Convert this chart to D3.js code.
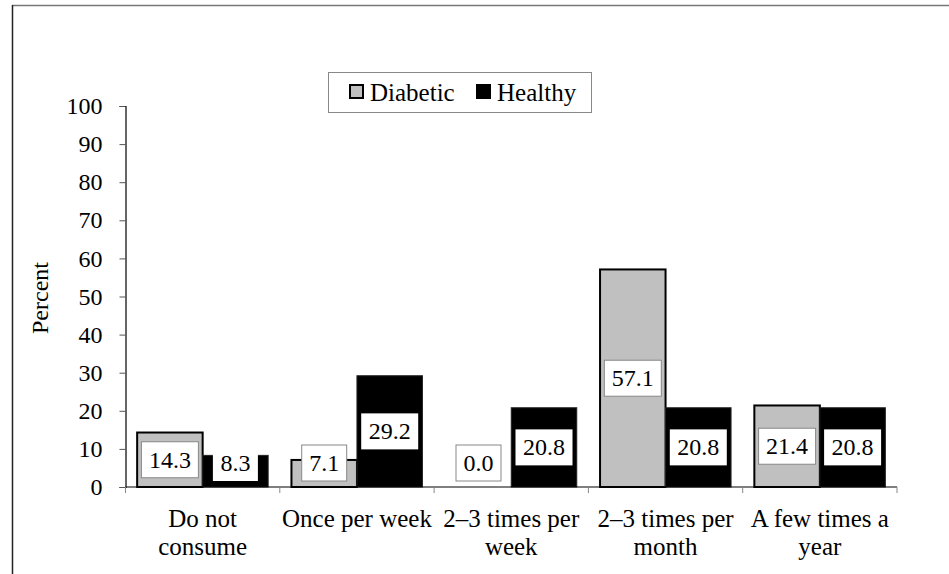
<!DOCTYPE html>
<html>
<head>
<meta charset="utf-8">
<script src="https://cdn.jsdelivr.net/npm/d3@7"></script>
<style>
  html, body { margin: 0; padding: 0; background: #fff; }
  svg { display: block; }
</style>
</head>
<body>
<svg id="chart" width="949" height="574"></svg>
<script>
const categories = ["Do not consume", "Once per week", "2\u20133 times per week", "2\u20133 times per month", "A few times a year"];
const seriesNames = ["Diabetic", "Healthy"];
const diabetic = [14.3, 7.1, 0.0, 57.1, 21.4];
const healthy = [8.3, 29.2, 20.8, 20.8, 20.8];
const yTicks = [0, 10, 20, 30, 40, 50, 60, 70, 80, 90, 100];
const yLabel = "Percent";

const seriesValues = [diabetic, healthy];
const fills = ["#c0c0c0", "#000000"];
const strokes = ["#000000", "#222222"];

const FONT = "'Liberation Serif', 'Times New Roman', Tinos, 'DejaVu Serif', serif";
const FS = 24;
const FS_TXT = 25;

const svg = d3.select("#chart")
  .style("font-family", FONT);

// frame lines
svg.append("line").attr("x1", 12).attr("x2", 949).attr("y1", 5.5).attr("y2", 5.5)
  .attr("stroke", "#777").attr("stroke-width", 1.5);
svg.append("line").attr("x1", 12.5).attr("x2", 12.5).attr("y1", 5).attr("y2", 574)
  .attr("stroke", "#222").attr("stroke-width", 1.5);

const plotLeft = 125.5, plotRight = 897, plotTop = 106, plotBottom = 487;

const p = 0.151;
const x0 = d3.scaleBand().domain(categories).range([plotLeft, plotRight])
  .paddingInner(p).paddingOuter(p / 2);
const x1 = d3.scaleBand().domain(seriesNames).range([0, x0.bandwidth()]).padding(0);
const y = d3.scaleLinear().domain([0, 100]).range([plotBottom, plotTop]);

function styleText(sel, fs) {
  return sel.style("font-family", FONT).style("font-size", (fs || FS) + "px").attr("fill", "#000");
}

// bars
const groups = svg.append("g").selectAll("g").data(categories).join("g")
  .attr("transform", d => `translate(${x0(d)},0)`);

const barData = (c, i) => seriesNames.map((s, k) => ({ s, k, v: seriesValues[k][i], c }));

groups.selectAll("rect").data((c, i) => barData(c, i)).join("rect")
  .attr("x", d => x1(d.s))
  .attr("width", x1.bandwidth())
  .attr("y", d => y(d.v))
  .attr("height", d => y(0) - y(d.v))
  .attr("fill", d => fills[d.k])
  .attr("stroke", d => d.v > 0 ? strokes[d.k] : "none")
  .attr("stroke-width", d => d.k === 0 ? 2 : 1);

// axes
const yAxis = d3.axisLeft(y).tickValues(yTicks).tickSize(6).tickPadding(17).tickFormat(d3.format("d"));
const gy = svg.append("g").attr("transform", `translate(${plotLeft},0)`).call(yAxis);
gy.attr("font-family", null).attr("font-size", null);
gy.select(".domain").attr("stroke", "#000").attr("stroke-width", 1.2);
gy.selectAll(".tick line").attr("stroke", "#555");
styleText(gy.selectAll(".tick text"));

// x axis line
svg.append("line").attr("x1", plotLeft).attr("x2", plotRight).attr("y1", y(0)).attr("y2", y(0))
  .attr("stroke", "#000").attr("stroke-width", 1.2);
// x boundary ticks
const step = x0.step();
const bounds = categories.map(c => x0(c) - (step - x0.bandwidth()) / 2).concat([plotRight]);
svg.append("g").selectAll("line").data(bounds).join("line")
  .attr("x1", d => d).attr("x2", d => d)
  .attr("y1", y(0)).attr("y2", y(0) + 6)
  .attr("stroke", "#888").attr("stroke-width", 1);

// x labels with wrapping
const xl = styleText(svg.append("g").selectAll("text").data(categories).join("text"), FS_TXT)
  .attr("x", d => x0(d) + x0.bandwidth() / 2)
  .attr("y", 527)
  .attr("text-anchor", "middle");
xl.each(function (d) {
  const t = d3.select(this);
  const words = d.split(" ");
  const maxW = step + 4;
  let lines = [], line = [];
  const tmp = t.append("tspan");
  words.forEach(w => {
    const test = line.concat([w]).join(" ");
    tmp.text(test);
    if (tmp.node().getComputedTextLength() > maxW && line.length) {
      lines.push(line.join(" "));
      line = [w];
    } else {
      line.push(w);
    }
  });
  lines.push(line.join(" "));
  tmp.remove();
  lines.forEach((l, i) => {
    t.append("tspan").attr("x", x0(d) + x0.bandwidth() / 2).attr("dy", i === 0 ? 0 : 28).text(l);
  });
});

// y label
styleText(svg.append("text"))
  .attr("transform", `translate(48,298) rotate(-90)`)
  .attr("text-anchor", "middle")
  .text(yLabel);

// data labels with boxes
const labelG = svg.append("g");
categories.forEach((c, i) => {
  seriesNames.forEach((s, k) => {
    const v = seriesValues[k][i];
    const cx = x0(c) + x1(s) + x1.bandwidth() / 2;
    const txt = d3.format(".1f")(v);
    const g = labelG.append("g");
    const t = styleText(g.append("text")).attr("text-anchor", "middle").text(txt);
    const w = t.node().getComputedTextLength() + 15;
    const h = 36;
    let cy = (y(v) + y(0)) / 2;
    if (cy + h / 2 > y(0) - 6) cy = y(0) - 6 - h / 2;
    g.insert("rect", "text")
      .attr("x", cx - w / 2).attr("y", cy - h / 2)
      .attr("width", w).attr("height", h)
      .attr("fill", "#fff")
      .attr("stroke", k === 0 ? "#888" : "none")
      .attr("stroke-width", 1);
    t.attr("x", cx).attr("y", cy + 8);
  });
});

// legend
const lg = svg.append("g");
lg.append("rect").attr("x", 328.5).attr("y", 72.5).attr("width", 263).attr("height", 40)
  .attr("fill", "#fff").attr("stroke", "#888").attr("stroke-width", 1);
const legendPos = [{ sx: 350, tx: 370 }, { sx: 477, tx: 497 }];
seriesNames.forEach((s, k) => {
  lg.append("rect").attr("x", legendPos[k].sx).attr("y", 85).attr("width", 13).attr("height", 13)
    .attr("fill", fills[k]).attr("stroke", "#000").attr("stroke-width", 2);
  styleText(lg.append("text"), FS_TXT).attr("x", legendPos[k].tx).attr("y", 100.5).text(s);
});
</script>
</body>
</html>
